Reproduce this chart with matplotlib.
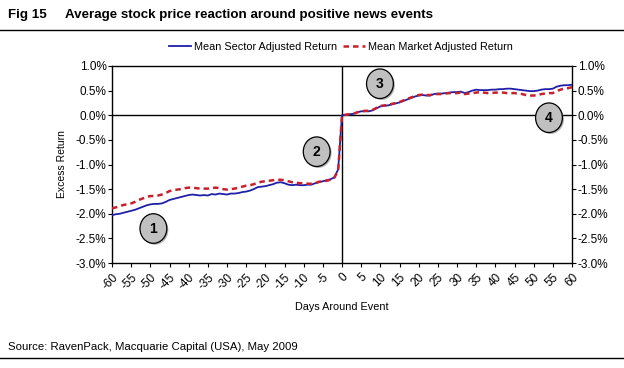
import matplotlib
matplotlib.use("Agg")
import matplotlib.pyplot as plt
from matplotlib.patches import Ellipse
from matplotlib.lines import Line2D
import numpy as np

plt.rcParams['font.family'] = ['Liberation Sans', 'DejaVu Sans']

days = list(range(-60, 61))

sector = [
    -2.03, -2.01, -2.00, -1.98, -1.96, -1.94, -1.92, -1.89, -1.86, -1.83, -1.81,
    -1.80, -1.80, -1.79, -1.76, -1.72, -1.70, -1.68, -1.66, -1.64, -1.62,
    -1.61, -1.62, -1.63, -1.62, -1.63, -1.60, -1.61, -1.59, -1.60, -1.61,
    -1.59, -1.59, -1.58, -1.56, -1.55, -1.53, -1.50, -1.46, -1.45, -1.44,
    -1.42, -1.40, -1.37, -1.36, -1.38, -1.41, -1.42, -1.41, -1.42, -1.42,
    -1.41, -1.41, -1.38, -1.36, -1.34, -1.32, -1.30, -1.26, -1.10,
    0.00,
    0.01, 0.02, 0.03, 0.06, 0.08, 0.08, 0.08, 0.10, 0.14, 0.18,
    0.19, 0.20, 0.22, 0.24, 0.26, 0.29, 0.32, 0.35, 0.38, 0.40,
    0.41, 0.40, 0.40, 0.43, 0.44, 0.44, 0.45, 0.46, 0.47, 0.47,
    0.48, 0.45, 0.47, 0.50, 0.52, 0.51, 0.51, 0.51, 0.52, 0.52,
    0.53, 0.53, 0.54, 0.54, 0.53, 0.52, 0.51, 0.50, 0.49, 0.49,
    0.50, 0.52, 0.53, 0.53, 0.54, 0.58, 0.60, 0.61, 0.61, 0.62,
]

market = [
    -1.89, -1.87, -1.85, -1.82, -1.81, -1.79, -1.76, -1.72, -1.69, -1.66, -1.64,
    -1.64, -1.63, -1.61, -1.58, -1.54, -1.52, -1.51, -1.50, -1.48, -1.47,
    -1.47, -1.48, -1.49, -1.49, -1.49, -1.48, -1.47, -1.48, -1.50, -1.51,
    -1.50, -1.49, -1.47, -1.45, -1.43, -1.42, -1.40, -1.37, -1.35, -1.34,
    -1.33, -1.32, -1.31, -1.31, -1.32, -1.34, -1.36, -1.37, -1.38, -1.38,
    -1.39, -1.39, -1.38, -1.35, -1.34, -1.33, -1.31, -1.27, -1.12,
    0.00,
    0.01, 0.02, 0.03, 0.06, 0.08, 0.09, 0.09, 0.11, 0.15, 0.19,
    0.20, 0.21, 0.23, 0.25, 0.27, 0.30, 0.33, 0.36, 0.39, 0.41,
    0.42, 0.41, 0.41, 0.43, 0.43, 0.43, 0.44, 0.45, 0.45, 0.45,
    0.46, 0.43, 0.44, 0.45, 0.46, 0.47, 0.46, 0.45, 0.45, 0.46,
    0.46, 0.46, 0.45, 0.45, 0.45, 0.44, 0.43, 0.41, 0.40, 0.40,
    0.41, 0.43, 0.44, 0.45, 0.45, 0.49, 0.52, 0.54, 0.55, 0.57,
]

x_ticks = list(range(-60, 61, 5))
y_ticks = [-3.0, -2.5, -2.0, -1.5, -1.0, -0.5, 0.0, 0.5, 1.0]

markers_lbl = ["1", "2", "3", "4"]
markers_x = [-49.2, -6.6, 9.9, 54.0]
markers_y = [-2.30, -0.74, 0.64, -0.05]

fig_no = "Fig 15"
title = "Average stock price reaction around positive news events"
source = "Source: RavenPack, Macquarie Capital (USA), May 2009"

fig = plt.figure(figsize=(6.24, 3.68), dpi=100)
ax = fig.add_axes([112/624, 1-263/368, 460/624, 197/368])

blue = '#1f1fa8'
red = '#c8202c'
ax.plot(days, sector, color=blue, lw=1.3, zorder=3)
ax.plot(days, market, color=red, lw=1.8, ls=(0, (2.2, 1.6)), zorder=4)

ax.axhline(0, color='black', lw=1.0, zorder=2)
ax.axvline(0, color='black', lw=1.0, zorder=2)

ax.set_xlim(-60, 60)
ax.set_ylim(-3.0, 1.0)
ax.set_xticks(x_ticks)
ax.set_xticklabels([str(t) for t in x_ticks], rotation=45, ha='right', rotation_mode='anchor', fontsize=8.5)
ax.set_yticks(y_ticks)
ax.set_yticklabels([f"{v:.1f}%" for v in y_ticks], fontsize=8.5)
ax.tick_params(axis='both', direction='out', length=3, width=0.8, color='black')
ax.tick_params(axis='y', left=True, right=True, labelleft=True, labelright=True, pad=1)
ax.tick_params(axis='x', pad=3)
for s in ax.spines.values():
    s.set_linewidth(1.0)
    s.set_color('black')

ax.set_ylabel("Excess Return", fontsize=7.5, labelpad=6)
ax.set_xlabel("Days Around Event", fontsize=7.8, labelpad=7)

for lbl, mx, my in zip(markers_lbl, markers_x, markers_y):
    sh = Ellipse((mx + 0.4, my - 0.03), width=7.0, height=0.6, facecolor='#808080',
                 edgecolor='none', zorder=5, alpha=0.6)
    ax.add_patch(sh)
    e = Ellipse((mx, my), width=7.0, height=0.6, facecolor='#c0c0c0',
                edgecolor='black', lw=0.9, zorder=6)
    ax.add_patch(e)
    ax.text(mx, my, lbl, ha='center', va='center', fontsize=10, fontweight='bold', zorder=7)

handles = [Line2D([0], [0], color=blue, lw=1.3),
           Line2D([0], [0], color=red, lw=1.8, ls=(0, (2.2, 1.6)))]
fig.legend(handles, ['Mean Sector Adjusted Return', 'Mean Market Adjusted Return'],
           loc='center', bbox_to_anchor=(341/624, 1-47/368), ncol=2, frameon=False,
           fontsize=7.8, handlelength=2.0, handletextpad=0.3, columnspacing=0.5)

fig.text(8/624, 1-15/368, fig_no, fontsize=9.6, fontweight='bold', ha='left', va='center')
fig.text(65/624, 1-15/368, title, fontsize=9.6, fontweight='bold', ha='left', va='center')
fig.add_artist(Line2D([0, 1], [1-30/368, 1-30/368], color='black', lw=1.0, transform=fig.transFigure))
fig.text(8/624, 1-347/368, source, fontsize=8.2, ha='left', va='center')
fig.add_artist(Line2D([0, 1], [1-358/368, 1-358/368], color='black', lw=1.0, transform=fig.transFigure))

fig.savefig("out.png", dpi=100)
